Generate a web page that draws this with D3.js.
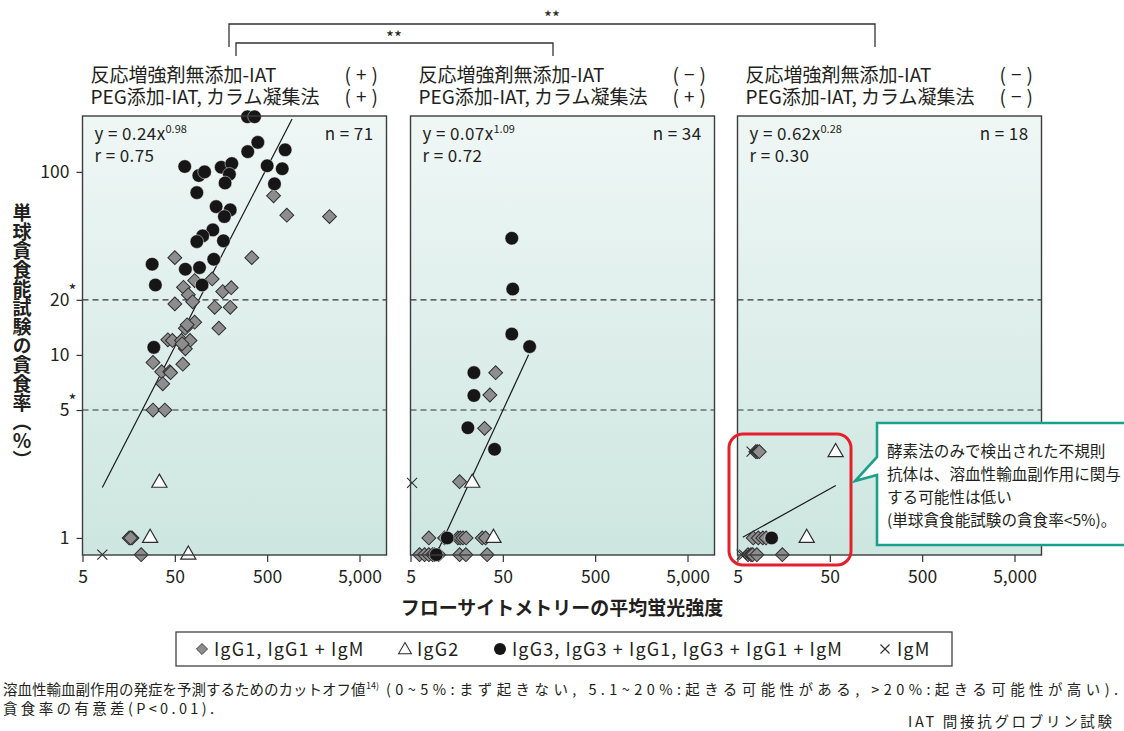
<!DOCTYPE html>
<html>
<head>
<meta charset="utf-8">
<title>単球貪食能試験とフローサイトメトリー</title>
<style>
	body { margin: 0; background: #fff; }
	svg { display: block; font-family: "Noto Sans CJK JP", "Noto Sans", sans-serif; }
</style>
</head>
<body>
<script src="https://d3js.org/d3.v7.min.js"></script>
<script>

// ---- data ----
var xTicks = [5, 50, 500, 5000];
var xTickLabels = ["5", "50", "500", "5,000"];
var yTicks = [1, 5, 10, 20, 100];
var yTickLabels = ["1", "5", "10", "20", "100"];
var yTickStars = [false, true, false, true, false];
var cutoffs = [5, 20];

var headLine1 = ["反応増強剤無添加-IAT", "反応増強剤無添加-IAT", "反応増強剤無添加-IAT"];
var headSign1 = ["+", "−", "−"];
var headLine2 = ["PEG添加-IAT, カラム凝集法", "PEG添加-IAT, カラム凝集法", "PEG添加-IAT, カラム凝集法"];
var headSign2 = ["+", "+", "−"];

var eqCoef = ["0.24", "0.07", "0.62"];
var eqExp = ["0.98", "1.09", "0.28"];
var rVals = ["0.75", "0.72", "0.30"];
var nVals = [71, 34, 18];

// fit: a, b, from x, to x  (y = a * x^b)
var fits = [[0.24, 0.98, 8.2, 930], [0.07, 1.09, 9.5, 95], [0.62, 0.28, 5.7, 58]];

// points below 1% sit on the bottom axis
var p1Diamonds = [[586, 74], [816, 58], [2365, 57], [50, 34], [341, 34], [82, 25.5], [127, 26], [62, 23.4],
	[70, 21.3], [165, 22.2], [204, 23.3], [78, 19.5], [50, 19], [135, 18.2], [199, 18.2], [150, 14], [82, 15.1],
	[65, 14], [68, 14.6], [42, 12.1], [47, 12], [59, 12], [73, 12], [65, 10.8], [60, 11.5], [29, 9.1], [36, 8.1],
	[44, 8.1], [45, 8.0], [61, 8.9], [37, 6.95], [29, 5], [39, 5], [16, 1], [17.2, 1], [16.6, 1], [21.6, 0.81]];
var p1Circles = [[306, 200], [365, 200], [396, 145], [308, 129], [783, 132], [500, 108], [728, 104], [600, 86],
	[64, 107], [91, 95.5], [105, 100], [159, 106], [207, 111], [195, 97], [175, 87], [86.5, 77], [140, 64.6],
	[199, 62], [172, 57], [129, 48.2], [100, 44.7], [86.5, 41.6], [168, 42], [132, 33.3], [92.5, 30], [65, 29.4],
	[28.4, 31.3], [30.8, 24.1], [98.6, 24.1], [29.6, 11]];
var p1Triangles = [[34, 2.0], [27, 1.0], [70, 0.81]];
var p1Crosses = [[8.2, 0.81]];

var p2Diamonds = [[41.8, 8], [36.2, 6.04], [31.7, 3.97], [17, 2.03], [7.9, 1], [11.7, 1], [16.3, 1], [17.3, 1],
	[18.5, 1], [20, 1], [29.9, 1], [32.5, 1], [6.26, 0.81], [7.1, 0.81], [7.9, 0.81], [8.7, 0.81], [9.1, 0.81],
	[10.1, 0.81], [17, 0.81], [19.9, 0.81], [33.8, 0.81]];
var p2Circles = [[62.5, 43.4], [64, 22.9], [62.5, 13], [97.5, 11.1], [24.3, 8], [24.3, 6], [20.9, 4],
	[40.7, 3.05], [12.5, 1], [9.5, 0.81]];
var p2Triangles = [[23.3, 2], [39.6, 1]];
var p2Crosses = [[5.2, 2]];

var p3Diamonds = [[7.9, 2.96], [8.2, 2.96], [8.6, 2.96], [7.4, 1], [8.4, 1], [9.4, 1], [10.2, 1], [6.5, 0.81],
	[7.0, 0.81], [7.3, 0.81], [8.1, 0.81], [15.3, 0.81]];
var p3Circles = [[11.7, 1]];
var p3Triangles = [[57.8, 2.94], [28.1, 1]];
var p3Crosses = [[7.1, 2.96], [5.55, 0.81], [5.9, 0.81]];

var panelData = [
	{ diamonds: p1Diamonds, triangles: p1Triangles, circles: p1Circles, crosses: p1Crosses },
	{ diamonds: p2Diamonds, triangles: p2Triangles, circles: p2Circles, crosses: p2Crosses },
	{ diamonds: p3Diamonds, triangles: p3Triangles, circles: p3Circles, crosses: p3Crosses }
];

var legendLabels = ["IgG1, IgG1 + IgM", "IgG2", "IgG3, IgG3 + IgG1, IgG3 + IgG1 + IgM", "IgM"];
var calloutLines = ["酵素法のみで検出された不規則", "抗体は、溶血性輸血副作用に関与", "する可能性は低い", "(単球貪食能試験の貪食率<5%)。"];

var note1a = "溶血性輸血副作用の発症を予測するためのカットオフ値";
var note1ref = "14)";
var note1b = "(0~5%:まず起きない, 5.1~20%:起きる可能性がある, >20%:起きる可能性が高い).";
var note2 = "貪食率の有意差(P<0.01).";
var note3 = "IAT 間接抗グロブリン試験";

// ---- layout ----
var width = 1124, height = 731;
var panelLeft = [82.5, 410.5, 737.5];
var panelW = 304;
var plotTop = 116, plotBottom = 555;
var plotH = plotBottom - plotTop;
var textColor = "#231f20";

var x = d3.scaleLog().domain([5, 9800]).range([0, panelW]);
var y = d3.scaleLog().domain([0.807, 202]).range([plotH, 0]);

var svg = d3.select("body").append("svg")
	.attr("width", width)
	.attr("height", height);

var defs = svg.append("defs");
var grad = defs.append("linearGradient")
	.attr("id", "bg")
	.attr("x1", 0).attr("y1", 0).attr("x2", 0).attr("y2", 1);
grad.append("stop").attr("offset", "0%").attr("stop-color", "#eff7f5");
grad.append("stop").attr("offset", "100%").attr("stop-color", "#cde6e0");

var diamondPath = d3.symbol(d3.symbolSquare, 96)();
var trianglePath = d3.symbol(d3.symbolTriangle, 100)();
var crossPath = "M-5,-5L5,5M-5,5L5,-5";

function drawDiamonds(g, data) {
	g.selectAll(null).data(data).join("path")
		.attr("d", diamondPath)
		.attr("transform", function(d) { return "translate(" + x(d[0]) + "," + y(d[1]) + ") rotate(45)"; })
		.attr("fill", "#8d8d8d")
		.attr("stroke", "#2d2d2d")
		.attr("stroke-width", 1);
}
function drawTriangles(g, data) {
	g.selectAll(null).data(data).join("path")
		.attr("d", trianglePath)
		.attr("transform", function(d) { return "translate(" + x(d[0]) + "," + y(d[1]) + ")"; })
		.attr("fill", "#fff")
		.attr("stroke", "#2d2d2d")
		.attr("stroke-width", 1.2);
}
function drawCircles(g, data) {
	g.selectAll(null).data(data).join("circle")
		.attr("cx", function(d) { return x(d[0]); })
		.attr("cy", function(d) { return y(d[1]); })
		.attr("r", 6.8)
		.attr("fill", "#161616")
		.attr("stroke", "#ffffff")
		.attr("stroke-opacity", 0.6)
		.attr("stroke-width", 0.8);
}
function drawCrosses(g, data) {
	g.selectAll(null).data(data).join("path")
		.attr("d", crossPath)
		.attr("transform", function(d) { return "translate(" + x(d[0]) + "," + y(d[1]) + ")"; })
		.attr("fill", "none")
		.attr("stroke", "#2d2d2d")
		.attr("stroke-width", 1.1);
}

panelLeft.forEach(function(left, i) {
	var g = svg.append("g").attr("transform", "translate(" + left + "," + plotTop + ")");

	g.append("rect")
		.attr("width", panelW)
		.attr("height", plotH)
		.attr("fill", "url(#bg)");

	// cut-off lines
	g.selectAll(null).data(cutoffs).join("line")
		.attr("x1", 0).attr("x2", panelW)
		.attr("y1", function(d) { return y(d); })
		.attr("y2", function(d) { return y(d); })
		.attr("stroke", "#333")
		.attr("stroke-width", 1.2)
		.attr("stroke-dasharray", "6,4");

	// x axis
	var xAxis = g.append("g")
		.attr("transform", "translate(0," + plotH + ")")
		.call(d3.axisBottom(x).tickValues(xTicks).tickSize(7).tickFormat(function(d, j) { return xTickLabels[j]; }));
	xAxis.select(".domain").remove();
	xAxis.selectAll("line").attr("stroke", "#333").attr("stroke-width", 1.2);
	xAxis.selectAll("text")
		.attr("font-size", 17.5)
		.attr("font-family", "'Noto Sans CJK JP', sans-serif")
		.attr("fill", textColor)
		.attr("dy", "1.0em");

	if (i === 0) {
		var yAxis = g.append("g")
			.call(d3.axisLeft(y).tickValues(yTicks).tickSize(6).tickFormat(function(d, j) { return yTickLabels[j]; }));
		yAxis.select(".domain").remove();
		yAxis.selectAll("line").attr("stroke", "#333").attr("stroke-width", 1.2);
		yAxis.selectAll("text")
			.attr("font-size", 17.5)
			.attr("font-family", "'Noto Sans CJK JP', sans-serif")
			.attr("fill", textColor)
			.attr("x", -13);
		g.selectAll(null).data(yTicks.filter(function(d, j) { return yTickStars[j]; })).join("text")
			.attr("x", -14)
			.attr("y", function(d) { return y(d) - 3; })
			.attr("font-size", 17)
			.attr("fill", textColor)
			.text("*");
	}

	// fit line
	var f = fits[i];
	g.append("path")
		.datum([f[2], f[3]])
		.attr("d", d3.line()
			.x(function(d) { return x(d); })
			.y(function(d) { return y(f[0] * Math.pow(d, f[1])); }))
		.attr("fill", "none")
		.attr("stroke", "#1a1a1a")
		.attr("stroke-width", 1.2);

	var pd = panelData[i];
	drawDiamonds(g.append("g"), pd.diamonds);
	drawTriangles(g.append("g"), pd.triangles);
	drawCircles(g.append("g"), pd.circles);
	drawCrosses(g.append("g"), pd.crosses);

	// frame
	g.append("rect")
		.attr("width", panelW)
		.attr("height", plotH)
		.attr("fill", "none")
		.attr("stroke", "#3c3c3c")
		.attr("stroke-width", 1.4);

	// equation + n
	var eq = g.append("text")
		.attr("x", 12).attr("y", 24)
		.attr("font-size", 17)
		.attr("letter-spacing", 0.4)
		.attr("fill", textColor);
	eq.append("tspan").text("y = " + eqCoef[i] + "x");
	eq.append("tspan").attr("font-size", 11).attr("dy", -7).attr("letter-spacing", 0).text(eqExp[i]);
	g.append("text")
		.attr("x", 12).attr("y", 46)
		.attr("font-size", 17)
		.attr("letter-spacing", 0.4)
		.attr("fill", textColor)
		.text("r = " + rVals[i]);
	g.append("text")
		.attr("x", panelW - 13).attr("y", 24)
		.attr("text-anchor", "end")
		.attr("font-size", 17)
		.attr("letter-spacing", 0.4)
		.attr("fill", textColor)
		.text("n = " + nVals[i]);

	// headers
	var head = svg.append("g").attr("font-size", 19).attr("fill", textColor);
	head.append("text").attr("x", left + 8).attr("y", 82).text(headLine1[i]);
	head.append("text").attr("x", left + 8).attr("y", 104).text(headLine2[i]);
	head.append("text").attr("x", left + 262).attr("y", 82).attr("letter-spacing", 5).text("(" + headSign1[i] + ")");
	head.append("text").attr("x", left + 262).attr("y", 104).attr("letter-spacing", 5).text("(" + headSign2[i] + ")");
});

// significance brackets
var br = svg.append("g").attr("fill", "none").attr("stroke", "#333").attr("stroke-width", 1.3);
br.append("path").attr("d", "M229,47V24H875V47");
br.append("path").attr("d", "M236,56V43H553V56");
svg.append("text").attr("x", 552).attr("y", 24).attr("text-anchor", "middle")
	.attr("font-size", 17).attr("fill", textColor).text("**");
svg.append("text").attr("x", 394).attr("y", 44).attr("text-anchor", "middle")
	.attr("font-size", 17).attr("fill", textColor).text("**");

// axis titles
svg.append("text")
	.attr("x", 22).attr("y", 336)
	.attr("text-anchor", "middle")
	.attr("font-size", 19)
	.attr("font-weight", "bold")
	.attr("fill", textColor)
	.style("writing-mode", "vertical-rl")
	.text("単球貪食能試験の貪食率（％）");
svg.append("text")
	.attr("x", 562).attr("y", 615)
	.attr("text-anchor", "middle")
	.attr("font-size", 19)
	.attr("font-weight", "bold")
	.attr("fill", textColor)
	.text("フローサイトメトリーの平均蛍光強度");

// callout
svg.append("rect")
	.attr("x", 729).attr("y", 434).attr("width", 122).attr("height", 131).attr("rx", 14)
	.attr("fill", "none").attr("stroke", "#e3202b").attr("stroke-width", 3);
svg.append("path")
	.attr("d", "M877,423H1140V545H877V475L855,481L877,457Z")
	.attr("fill", "#fff").attr("stroke", "#1ba08b").attr("stroke-width", 2.6);
svg.append("g").attr("font-size", 15.6).attr("fill", textColor)
	.selectAll("text").data(calloutLines).join("text")
	.attr("x", 887)
	.attr("y", function(d, j) { return 457 + j * 23; })
	.text(function(d) { return d; });

// legend
var lg = svg.append("g");
lg.append("rect").attr("x", 176).attr("y", 632).attr("width", 776).attr("height", 34)
	.attr("fill", "#fff").attr("stroke", "#333").attr("stroke-width", 1.2);
var legendX = [202, 405, 500, 885];
lg.append("path").attr("d", diamondPath).attr("transform", "translate(" + legendX[0] + ",649) rotate(45) scale(0.8)")
	.attr("fill", "#8d8d8d").attr("stroke", "#2d2d2d");
lg.append("path").attr("d", trianglePath).attr("transform", "translate(" + legendX[1] + ",650) scale(0.85)")
	.attr("fill", "#fff").attr("stroke", "#2d2d2d").attr("stroke-width", 1.2);
lg.append("circle").attr("cx", legendX[2]).attr("cy", 649).attr("r", 6).attr("fill", "#161616");
lg.append("path").attr("d", crossPath).attr("transform", "translate(" + legendX[3] + ",649) scale(0.9)")
	.attr("fill", "none").attr("stroke", "#2d2d2d").attr("stroke-width", 1.2);
lg.selectAll("text").data(legendLabels).join("text")
	.attr("x", function(d, j) { return legendX[j] + 12; })
	.attr("y", 656)
	.attr("font-size", 18)
	.attr("letter-spacing", 1.1)
	.attr("fill", textColor)
	.text(function(d) { return d; });

// footnotes
var fn = svg.append("g").attr("font-size", 14.5).attr("fill", textColor);
fn.append("text").attr("x", 3).attr("y", 695).text(note1a);
fn.append("text").attr("x", 366).attr("y", 689).attr("font-size", 9).text(note1ref);
fn.append("text").attr("x", 386).attr("y", 695)
	.attr("textLength", 732).attr("lengthAdjust", "spacing")
	.text(note1b);
fn.append("text").attr("x", 3).attr("y", 714)
	.attr("textLength", 211).attr("lengthAdjust", "spacing")
	.text(note2);
fn.append("text").attr("x", 908).attr("y", 727)
	.attr("textLength", 204).attr("lengthAdjust", "spacing")
	.text(note3);

</script>
</body>
</html>
